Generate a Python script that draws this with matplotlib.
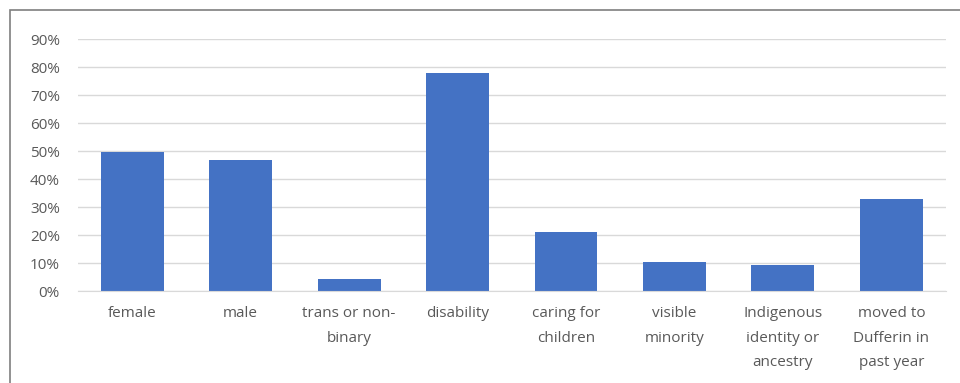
import matplotlib.pyplot as plt
from matplotlib.patches import Rectangle
from matplotlib.ticker import FuncFormatter, MultipleLocator

categories = ["female", "male", "trans or non-\nbinary", "disability",
              "caring for\nchildren", "visible\nminority",
              "Indigenous\nidentity or\nancestry", "moved to\nDufferin in\npast year"]
shares = [49.7, 46.9, 4.3, 78.0, 21.0, 10.5, 9.4, 33.0]

plt.rcParams["font.family"] = ["Open Sans", "DejaVu Sans"]
text_color = "#595959"
grid_color = "#D9D9D9"

fig = plt.figure(figsize=(9.6, 3.83), dpi=100)
ax = fig.add_axes([0.0813, 0.2402, 0.9037, 0.6578])

x = range(len(categories))
ax.bar(x, shares, width=0.58, color="#4472C4", zorder=3)

ax.set_xlim(-0.5, len(categories) - 0.5)
ax.set_ylim(0, 90)
ax.yaxis.set_major_locator(MultipleLocator(10))
ax.yaxis.set_major_formatter(FuncFormatter(lambda v, _: f"{v:.0f}%"))
ax.grid(axis="y", color=grid_color, linewidth=1, zorder=0)

ax.set_xticks(list(x))
ax.set_xticklabels(categories, linespacing=1.87)
ax.tick_params(axis="x", length=0, pad=11, labelsize=11, labelcolor=text_color)
ax.tick_params(axis="y", length=0, pad=13, labelsize=11, labelcolor=text_color)
for lbl in ax.get_xticklabels():
    lbl.set_verticalalignment("top")

for side in ["top", "right", "left"]:
    ax.spines[side].set_visible(False)
ax.spines["bottom"].set_color(grid_color)
ax.spines["bottom"].set_zorder(4)

# chart area outline
fig.patches.append(Rectangle((10 / 960, -0.05), 1.1, 1 - 10 / 383 + 0.05,
                             transform=fig.transFigure, fill=False,
                             edgecolor="#7F7F7F", linewidth=1.2))

fig.savefig("out.png", dpi=100)
